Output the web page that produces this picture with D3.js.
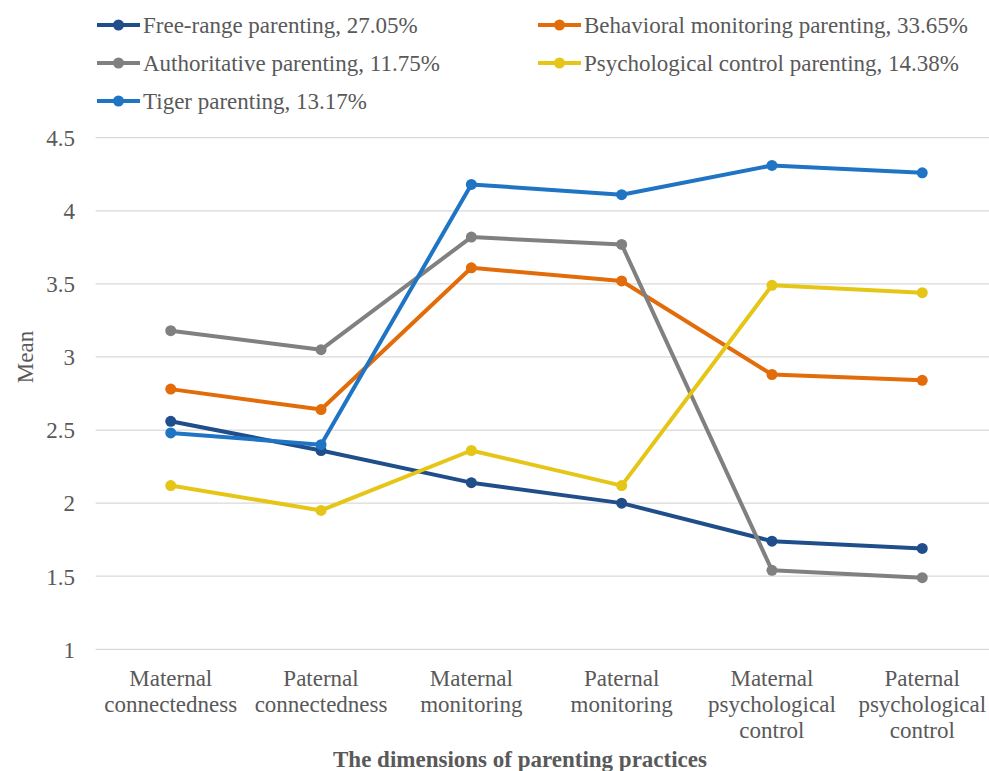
<!DOCTYPE html>
<html>
<head>
<meta charset="utf-8">
<script src="https://cdn.jsdelivr.net/npm/d3@7"></script>
<style>
  html, body { margin: 0; padding: 0; background: #fff; overflow: hidden; }
  svg { display: block; }
  svg text { font-family: "Liberation Serif", "Times New Roman", serif; }
</style>
</head>
<body>
<svg id="chart" width="989" height="771"></svg>
<script>
const categories = [
  ["Maternal", "connectedness"],
  ["Paternal", "connectedness"],
  ["Maternal", "monitoring"],
  ["Paternal", "monitoring"],
  ["Maternal", "psychological", "control"],
  ["Paternal", "psychological", "control"]
];
const seriesNames = [
  "Free-range parenting, 27.05%",
  "Behavioral monitoring parenting, 33.65%",
  "Authoritative parenting, 11.75%",
  "Psychological control parenting, 14.38%",
  "Tiger parenting, 13.17%"
];
const freeRange      = [2.56, 2.36, 2.14, 2.00, 1.74, 1.69];
const behavioral     = [2.78, 2.64, 3.61, 3.52, 2.88, 2.84];
const authoritative  = [3.18, 3.05, 3.82, 3.77, 1.54, 1.49];
const psychological  = [2.12, 1.95, 2.36, 2.12, 3.49, 3.44];
const tiger          = [2.48, 2.40, 4.18, 4.11, 4.31, 4.26];
const yTicks = [1, 1.5, 2, 2.5, 3, 3.5, 4, 4.5];
const yTitle = "Mean";
const xTitle = "The dimensions of parenting practices";

const seriesValues = [freeRange, behavioral, authoritative, psychological, tiger];
const colors = ["#1f4e8a", "#e36c0a", "#808080", "#e5c617", "#1f74c4"];

const svg = d3.select("#chart");
const textColor = "#595959";
const fontSize = 23;

const x = d3.scaleBand()
  .domain(categories.map((c, i) => i))
  .range([95.6, 997.4]);
const y = d3.scaleLinear().domain([1, 4.5]).range([649.3, 137.7]);

// gridlines
svg.append("g").selectAll("line").data(yTicks).join("line")
  .attr("x1", 95.6).attr("x2", 997.4)
  .attr("y1", d => y(d)).attr("y2", d => y(d))
  .attr("stroke", "#d9d9d9").attr("stroke-width", 1.3);

// y axis labels
const yAxis = d3.axisLeft(y).tickValues(yTicks).tickSize(0).tickPadding(0).tickFormat(d3.format(""));
const yg = svg.append("g").attr("transform", "translate(75,0)").call(yAxis);
yg.select(".domain").remove();
yg.selectAll("text")
  .attr("fill", textColor).attr("font-size", fontSize)
  .attr("dy", "0.34em");

// x axis labels (multi-line)
const xg = svg.append("g");
categories.forEach((lines, i) => {
  const t = xg.append("text")
    .attr("x", x(i) + x.bandwidth() / 2)
    .attr("y", 686)
    .attr("text-anchor", "middle")
    .attr("fill", textColor)
    .attr("font-size", fontSize);
  lines.forEach((ln, j) => {
    t.append("tspan").attr("x", x(i) + x.bandwidth() / 2).attr("dy", j === 0 ? 0 : 26).text(ln);
  });
});

// titles
svg.append("text")
  .attr("transform", "translate(33,357) rotate(-90)")
  .attr("text-anchor", "middle")
  .attr("fill", textColor).attr("font-size", fontSize)
  .text(yTitle);

svg.append("text")
  .attr("x", 520).attr("y", 767)
  .attr("text-anchor", "middle")
  .attr("fill", textColor).attr("font-size", fontSize).attr("font-weight", "bold")
  .text(xTitle);

// lines
const line = d3.line()
  .x((d, i) => x(i) + x.bandwidth() / 2)
  .y(d => y(d));

seriesValues.forEach((vals, s) => {
  const g = svg.append("g");
  g.append("path")
    .datum(vals)
    .attr("d", line)
    .attr("fill", "none")
    .attr("stroke", colors[s])
    .attr("stroke-width", 4)
    .attr("stroke-linejoin", "round");
  g.selectAll("circle").data(vals).join("circle")
    .attr("cx", (d, i) => x(i) + x.bandwidth() / 2)
    .attr("cy", d => y(d))
    .attr("r", 5.5)
    .attr("fill", colors[s]);
});

// legend
const legendPos = [
  [97, 25], [538, 25],
  [97, 63], [538, 63],
  [97, 101]
];
seriesNames.forEach((name, s) => {
  const [lx, ly] = legendPos[s];
  const g = svg.append("g").attr("transform", `translate(${lx},${ly})`);
  g.append("line").attr("x1", 0).attr("x2", 43).attr("y1", 0).attr("y2", 0)
    .attr("stroke", colors[s]).attr("stroke-width", 4);
  g.append("circle").attr("cx", 21.5).attr("cy", 0).attr("r", 5.5).attr("fill", colors[s]);
  g.append("text").attr("x", 46).attr("y", 0).attr("dy", "0.34em")
    .attr("fill", textColor).attr("font-size", fontSize)
    .text(name);
});
</script>
</body>
</html>
